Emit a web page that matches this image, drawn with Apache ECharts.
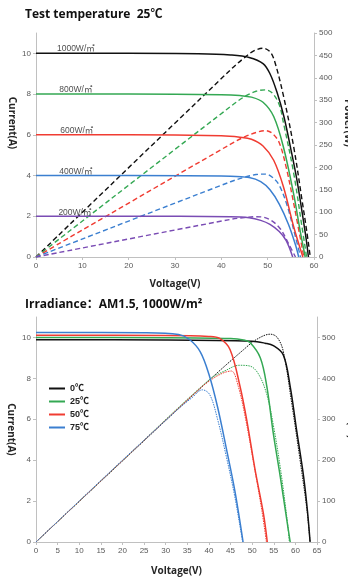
<!DOCTYPE html>
<html>
<head>
<meta charset="utf-8">
<script src="https://cdn.jsdelivr.net/npm/echarts@6/dist/echarts.min.js"></script>
<style>
  html, body { margin: 0; padding: 0; background: #fff; }
  #chart { width: 348px; height: 578px; }
</style>
</head>
<body>
<div id="chart"></div>
<script>
// ---- Upper panel: I-V (solid) and P-V (dashed) at 25℃ for five irradiance levels ----
const irrLabels = ['1000W/㎡', '800W/㎡', '600W/㎡', '400W/㎡', '200W/㎡'];
const irrColors = ['#111111', '#34a853', '#f03c32', '#3b7fd0', '#7a4cb4'];
const irrLabelPos = [[8.6, 10.22], [8.6, 8.2], [8.8, 6.2], [8.6, 4.2], [8.4, 2.2]];

const iv1000 = [[0, 10.0], [20, 10.0], [35, 9.98], [42, 9.92], [46, 9.8], [49, 9.5], [50.5, 9.0], [52, 8.1], [53.5, 6.9], [55, 5.3], [56.3, 3.8], [57.5, 2.1], [58.3, 0.9], [58.8, 0]];
const iv800 = [[0, 8.0], [20, 8.0], [40, 7.97], [44, 7.93], [46.5, 7.85], [49, 7.6], [51.3, 6.9], [53.4, 5.4], [55.6, 3.1], [57, 1.3], [58.1, 0]];
const iv600 = [[0, 6.0], [20, 6.0], [40, 5.95], [44, 5.88], [46.5, 5.78], [49, 5.45], [51.3, 4.75], [53.4, 3.45], [55.6, 1.5], [57.6, 0]];
const iv400 = [[0, 4.0], [20, 4.0], [42, 3.97], [46, 3.9], [48.5, 3.7], [50.5, 3.3], [52.5, 2.6], [54.5, 1.6], [56, 0.6], [56.7, 0]];
const iv200 = [[0, 2.0], [20, 2.0], [42, 1.98], [46, 1.93], [48.5, 1.8], [50.5, 1.6], [52.5, 1.25], [54, 0.8], [55.4, 0]];

const pv1000 = [[0, 0], [42, 418], [45, 445], [47, 460], [49, 466], [50.5, 458], [51.5, 437], [53.4, 360], [55.6, 247], [57.4, 128], [58.4, 60], [59.2, 0]];
const pv800 = [[0, 0], [42, 336], [45, 358], [47.5, 370], [49.5, 373], [51, 366], [52.5, 340], [53.4, 300], [55.6, 188], [57.4, 68], [58.4, 0]];
const pv600 = [[0, 0], [42, 252], [45, 268], [47.5, 278], [49.5, 282], [51, 276], [52.5, 255], [54, 200], [55.8, 110], [57.8, 0]];
const pv400 = [[0, 0], [42, 168], [45, 178], [47.5, 184], [49.5, 185], [51, 178], [52.5, 160], [54.2, 115], [56, 45], [57.1, 0]];
const pv200 = [[0, 0], [42, 84], [45, 88], [47.5, 90], [49, 89], [51, 80], [52.8, 62], [54.5, 30], [56, 0]];

// ---- Lower panel: I-V (solid) and P-V (dotted) at 1000W/m² for four cell temperatures ----
const tempLabels = ['0℃', '25℃', '50℃', '75℃'];
const tempColors = ['#111111', '#34a853', '#f03c32', '#3b7fd0'];

const ivT0 = [[0, 9.89], [30, 9.88], [50, 9.82], [53, 9.72], [54.9, 9.6], [57.2, 9.15], [58.8, 7.6], [60.3, 5.45], [61.9, 3.2], [62.8, 1.5], [63.4, 0]];
const ivT25 = [[0, 10.0], [30, 9.99], [45, 9.95], [48, 9.88], [49.5, 9.75], [51.9, 9.0], [53.4, 7.6], [54.9, 5.3], [56.5, 3.2], [58, 1.1], [58.8, 0]];
const ivT50 = [[0, 10.11], [30, 10.1], [40, 10.05], [42.5, 9.95], [44.9, 9.4], [47.2, 7.6], [48.8, 5.9], [50.7, 3.5], [52.6, 1.4], [53.5, 0]];
const ivT75 = [[0, 10.24], [25, 10.23], [33, 10.15], [35.5, 9.9], [38, 9.3], [40, 8.2], [42, 6.6], [44, 4.6], [46, 2.5], [47.9, 0]];

const pvT0 = [[0, 0], [20, 198], [40, 395], [48, 470], [51, 495], [54.2, 508], [55.8, 500], [57.2, 466], [59.2, 336], [61.1, 199], [62.7, 77], [63.4, 0]];
const pvT25 = [[0, 0], [20, 199], [40, 396], [44, 420], [47, 432], [49.5, 430], [51.5, 410], [53.4, 360], [55, 280], [56.6, 175], [58.2, 45], [58.6, 0]];
const pvT50 = [[0, 0], [20, 199], [38, 376], [41, 400], [43.5, 414], [45.2, 418], [46.8, 380], [48.5, 300], [50.4, 190], [52.2, 80], [53.3, 0]];
const pvT75 = [[0, 0], [20, 200], [33, 326], [36, 352], [38.5, 372], [40.2, 360], [42, 300], [44, 210], [46, 110], [47.8, 0]];

// tick values shown on each axis
const topVoltTicks = [0, 10, 20, 30, 40, 50, 60];
const topCurrTicks = [0, 2, 4, 6, 8, 10];
const topPowTicks = [0, 50, 100, 150, 200, 250, 300, 350, 400, 450, 500];
const botVoltTicks = [0, 5, 10, 15, 20, 25, 30, 35, 40, 45, 50, 55, 60, 65];
const botCurrTicks = [0, 2, 4, 6, 8, 10];
const botPowTicks = [0, 100, 200, 300, 400, 500];

const topIV = [iv1000, iv800, iv600, iv400, iv200];
const topPV = [pv1000, pv800, pv600, pv400, pv200];
const botIV = [ivT0, ivT25, ivT50, ivT75];
const botPV = [pvT0, pvT25, pvT50, pvT75];

const FONT = '"Liberation Sans", "Noto Sans CJK SC", sans-serif';
const TITLE_FONT = '"Open Sans", "Noto Sans CJK SC", sans-serif';
const axisGray = '#c0c0c0';
const labelGray = '#595959';

function valueAxis(opts) {
  return Object.assign({
    type: 'value',
    splitLine: { show: false },
    nameMoveOverlap: false,
    axisLine: { show: true, lineStyle: { color: axisGray, width: 1 } },
    axisTick: { show: true, length: 3, lineStyle: { color: axisGray }, customValues: opts.ticks },
    axisLabel: { color: labelGray, fontSize: 8, fontFamily: FONT, margin: 5, customValues: opts.ticks },
    nameTextStyle: Object.assign({ color: '#262626', fontSize: 10, fontWeight: 'bold', fontFamily: TITLE_FONT }, opts.nameStyle || {})
  }, opts.extra);
}

const series = [];
topIV.forEach((d, i) => series.push({
  name: irrLabels[i], type: 'line', xAxisIndex: 0, yAxisIndex: 0, data: d,
  smooth: 0.35, showSymbol: false, lineStyle: { color: irrColors[i], width: 1.5 }, z: 3
}));
topPV.forEach((d, i) => series.push({
  name: irrLabels[i] + ' P', type: 'line', xAxisIndex: 0, yAxisIndex: 1, data: d,
  smooth: 0.35, showSymbol: false, lineStyle: { color: irrColors[i], width: 1.4, type: [5, 3] }, z: 2
}));
series.push({
  name: 'irradiance', type: 'scatter', xAxisIndex: 0, yAxisIndex: 0, symbolSize: 0,
  data: irrLabelPos.map((p, i) => ({ value: p, label: { formatter: irrLabels[i] } })),
  label: { show: true, position: 'inside', color: '#1a1a1a', fontSize: 8.5, fontFamily: FONT }, z: 5
});
botIV.forEach((d, i) => series.push({
  name: tempLabels[i], type: 'line', xAxisIndex: 1, yAxisIndex: 2, data: d,
  smooth: 0.35, showSymbol: false, lineStyle: { color: tempColors[i], width: 1.5 }, itemStyle: { color: tempColors[i] }, z: 3
}));
botPV.forEach((d, i) => series.push({
  name: tempLabels[i] + ' P', type: 'line', xAxisIndex: 1, yAxisIndex: 3, data: d,
  smooth: 0.35, showSymbol: false, lineStyle: { color: tempColors[i], width: 1, type: [1.5, 1] }, z: 2
}));

const chart = echarts.init(document.getElementById('chart'), null, { renderer: 'canvas' });
chart.setOption({
  animation: false,
  backgroundColor: '#ffffff',
  title: [
    { text: 'Test temperature  25℃', left: 20, top: 4,
      textStyle: { fontSize: 12, fontWeight: 'bold', color: '#111', fontFamily: TITLE_FONT } },
    { text: 'Irradiance：AM1.5, 1000W/m²', left: 20, top: 294,
      textStyle: { fontSize: 12, fontWeight: 'bold', color: '#111', fontFamily: TITLE_FONT } }
  ],
  legend: {
    data: tempLabels, orient: 'vertical', left: 44, top: 379,
    icon: 'rect', itemWidth: 16, itemHeight: 2, itemGap: 4,
    textStyle: { fontSize: 9, fontWeight: 'bold', color: '#222', fontFamily: FONT }
  },
  grid: [
    { left: 36, right: 34, top: 33, height: 224, outerBoundsMode: 'none', containLabel: false },
    { left: 36, right: 31, top: 317, height: 225, outerBoundsMode: 'none', containLabel: false }
  ],
  xAxis: [
    valueAxis({ ticks: topVoltTicks, extra: { gridIndex: 0, min: 0, max: 60, interval: 10,
      name: 'Voltage(V)', nameLocation: 'middle', nameGap: 22 } }),
    valueAxis({ ticks: botVoltTicks, extra: { gridIndex: 1, min: 0, max: 65, interval: 5,
      name: 'Voltage(V)', nameLocation: 'middle', nameGap: 24 } })
  ],
  yAxis: [
    valueAxis({ ticks: topCurrTicks, nameStyle: { padding: [0, 44, 0, 0] },
      extra: { gridIndex: 0, min: 0, max: 11, interval: 1,
      name: 'Current(A)', nameLocation: 'middle', nameGap: 19, nameRotate: -90 } }),
    valueAxis({ ticks: topPowTicks, nameStyle: { padding: [0, 44, 0, 0] },
      extra: { gridIndex: 0, min: 0, max: 500, interval: 50, position: 'right',
      name: 'Power(W)', nameLocation: 'middle', nameGap: 29, nameRotate: -90 } }),
    valueAxis({ ticks: botCurrTicks, extra: { gridIndex: 1, min: 0, max: 11, interval: 1,
      name: 'Current(A)', nameLocation: 'middle', nameGap: 20, nameRotate: -90 } }),
    valueAxis({ ticks: botPowTicks, nameStyle: { padding: [0, 30, 0, 0] },
      extra: { gridIndex: 1, min: 0, max: 550, interval: 50, position: 'right',
      name: 'Power(W)', nameLocation: 'middle', nameGap: 29, nameRotate: -90 } })
  ],
  series: series
});
</script>
</body>
</html>
